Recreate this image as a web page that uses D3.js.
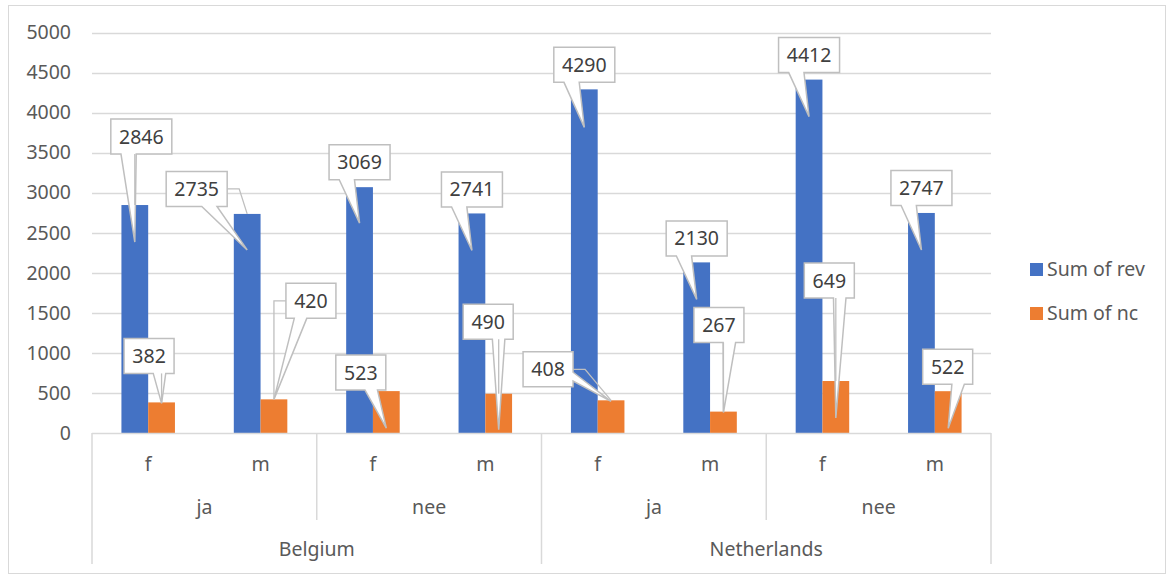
<!DOCTYPE html>
<html>
<head>
<meta charset="utf-8">
<script src="https://cdn.jsdelivr.net/npm/d3@7"></script>
<style>
  html, body { margin: 0; padding: 0; background: #fff; }
  svg { display: block; }
  text { font-family: "Noto Sans", "Open Sans", sans-serif; }
</style>
</head>
<body>
<svg id="chart" width="1172" height="576"></svg>
<script>
// ---- data ----
const countries = ["Belgium", "Netherlands"];
const groups = ["ja", "nee"];
const genders = ["f", "m"];
const seriesNames = ["Sum of rev", "Sum of nc"];
const revValues = [2846, 2735, 3069, 2741, 4290, 2130, 4412, 2747];
const ncValues = [382, 420, 523, 490, 408, 267, 649, 522];
const yTicks = [0, 500, 1000, 1500, 2000, 2500, 3000, 3500, 4000, 4500, 5000];

// ---- callout label placement (pixel offsets from bar top centre) ----
// [box dx, box dy, tip dy, draw leader]
const revCallouts = [
  [6.5, -68.5, 37, true], [-50.5, -25, 36, true], [0, -25, 36, false], [0, -24, 37, false],
  [0, -24.5, 38, false], [0, -24, 37, false], [0, -24.5, 37, false], [0, -25, 37, false]
];
const ncCallouts = [
  [-12.5, -46.5, 1, true], [37, -98.5, 0, true], [-25.5, -18.5, 37, false], [-10.5, -72, 36, true],
  [-63, -31, 1, true], [-4.5, -86.5, 1, true], [-6.5, -100.5, 37, true], [-0.5, -24.5, 37, false]
];

const colors = ["#4472C4", "#ED7D31"];
const gridColor = "#d9d9d9";
const textColor = "#595959";
const fontSize = "19.5px";

// build category table
const cats = [];
countries.forEach(c => groups.forEach(g => genders.forEach(s => cats.push({country: c, group: g, gender: s}))));
cats.forEach((d, i) => { d.values = [revValues[i], ncValues[i]]; d.callouts = [revCallouts[i], ncCallouts[i]]; d.i = i; });

const svg = d3.select("#chart");
const plot = {left: 92, right: 991, top: 32.5, bottom: 433};

// outer border
svg.append("rect").attr("x", 8.5).attr("y", 5.5).attr("width", 1157).attr("height", 568)
  .attr("fill", "#fff").attr("stroke", gridColor).attr("stroke-width", 1);

const y = d3.scaleLinear().domain([0, 5000]).range([plot.bottom, plot.top]);
const x0 = d3.scaleBand().domain(d3.range(cats.length)).range([plot.left, plot.right]).paddingInner(0).paddingOuter(0);
const x1 = d3.scaleBand().domain([0, 1]).range([0, x0.bandwidth()]).paddingInner(0).paddingOuter(1.1);

// gridlines
svg.append("g").selectAll("line").data(yTicks.filter(t => t > 0)).join("line")
  .attr("x1", plot.left).attr("x2", plot.right)
  .attr("y1", d => Math.round(y(d)) + 0.5).attr("y2", d => Math.round(y(d)) + 0.5)
  .attr("stroke", gridColor).attr("stroke-width", 1.3);

// y axis labels
const yAxis = d3.axisLeft(y).tickValues(yTicks).tickSize(0).tickPadding(0).tickFormat(d3.format("d"));
const yg = svg.append("g").attr("transform", `translate(71,0)`).call(yAxis);
yg.select(".domain").remove();
yg.selectAll("text").attr("fill", textColor).style("font-size", fontSize).style("font-family", "'Noto Sans', sans-serif");

// bars
const catG = svg.append("g").selectAll("g").data(cats).join("g")
  .attr("transform", d => `translate(${x0(d.i)},0)`);
catG.selectAll("rect").data(d => d.values.map((v, k) => ({v, k}))).join("rect")
  .attr("x", d => x1(d.k)).attr("width", x1.bandwidth())
  .attr("y", d => y(d.v)).attr("height", d => y(0) - y(d.v))
  .attr("fill", d => colors[d.k]);

// category axis
const axisG = svg.append("g").attr("stroke", gridColor).attr("stroke-width", 1.5);
axisG.append("line").attr("x1", plot.left).attr("x2", plot.right).attr("y1", plot.bottom + 0.5).attr("y2", plot.bottom + 0.5);
const nG = genders.length, nGroup = groups.length * genders.length;
d3.range(0, cats.length + 1).forEach(i => {
  const xx = i === cats.length ? plot.right : x0(i);
  if (i % nGroup === 0) {
    axisG.append("line").attr("x1", xx).attr("x2", xx).attr("y1", plot.bottom).attr("y2", 564);
  } else if (i % nG === 0) {
    axisG.append("line").attr("x1", xx).attr("x2", xx).attr("y1", plot.bottom).attr("y2", 520);
  }
});
const labG = svg.append("g").attr("fill", textColor).style("font-size", fontSize).attr("text-anchor", "middle");
cats.forEach(d => {
  labG.append("text").attr("x", x0(d.i) + x0.bandwidth() / 2).attr("y", 471).text(d.gender);
});
d3.range(cats.length / nG).forEach(j => {
  const xc = x0(j * nG) + x0.bandwidth() * nG / 2;
  labG.append("text").attr("x", xc).attr("y", 514).text(groups[j % groups.length]);
});
countries.forEach((c, j) => {
  const xc = x0(j * nGroup) + x0.bandwidth() * nGroup / 2;
  labG.append("text").attr("x", xc).attr("y", 556).text(c);
});

// callouts
function calloutPath(l, t, w, h, xPos, yPos) {
  const r = l + w, b = t + h, hc = l + w / 2, vc = t + h / 2;
  const dxPos = xPos - hc, dyPos = yPos - vc;
  const dq = dxPos * h / w;
  const dz = Math.abs(dyPos) - Math.abs(dq);
  const x1 = l + w * (dxPos > 0 ? 7 : 2) / 12, x2 = l + w * (dxPos > 0 ? 10 : 5) / 12;
  const y1 = t + h * (dyPos > 0 ? 7 : 2) / 12, y2 = t + h * (dyPos > 0 ? 10 : 5) / 12;
  const xl = dz > 0 ? l : (dxPos > 0 ? l : xPos);
  const yl = dz > 0 ? y1 : (dxPos > 0 ? y1 : yPos);
  const xr = dz > 0 ? r : (dxPos > 0 ? xPos : r);
  const yr = dz > 0 ? y1 : (dxPos > 0 ? yPos : y1);
  const xt = dz > 0 ? (dyPos > 0 ? x1 : xPos) : x1;
  const yt = dz > 0 ? (dyPos > 0 ? t : yPos) : t;
  const xb = dz > 0 ? (dyPos > 0 ? xPos : x1) : x1;
  const yb = dz > 0 ? (dyPos > 0 ? yPos : b) : b;
  const p = d3.path();
  p.moveTo(l, t); p.lineTo(x1, t); p.lineTo(xt, yt); p.lineTo(x2, t); p.lineTo(r, t);
  p.lineTo(r, y1); p.lineTo(xr, yr); p.lineTo(r, y2); p.lineTo(r, b);
  p.lineTo(x2, b); p.lineTo(xb, yb); p.lineTo(x1, b); p.lineTo(l, b);
  p.lineTo(l, y2); p.lineTo(xl, yl); p.lineTo(l, y1); p.closePath();
  return p.toString();
}

const calloutG = svg.append("g");
const leaderG = svg.append("g");
const labelTextG = svg.append("g");
cats.forEach(d => {
  d.values.forEach((v, k) => {
    const [dx, dy, tipDy, leader] = d.callouts[k];
    const bx = x0(d.i) + x1(k) + x1.bandwidth() / 2;
    const by = y(v);
    const label = String(v);
    const w = label.length >= 4 ? 61 : 50, h = 35;
    const cx = bx + dx, cy = by + dy;
    const l = cx - w / 2, t = cy - h / 2;
    calloutG.append("path").attr("d", calloutPath(l, t, w, h, bx, by + tipDy))
      .attr("fill", "#fff").attr("stroke", "#bfbfbf").attr("stroke-width", 1.5).attr("stroke-linejoin", "miter");
    labelTextG.append("text").attr("x", cx).attr("y", cy + 7).attr("text-anchor", "middle")
      .attr("fill", "#404040").style("font-size", fontSize).text(label);
    if (leader) {
      let pts;
      if (bx >= l && bx <= l + w) {
        pts = [[bx, t + h], [bx, by]];
      } else if (bx > l + w) {
        pts = [[l + w, cy], [l + w + 12, cy], [bx, by]];
      } else {
        pts = [[l, cy], [l - 12, cy], [bx, by]];
      }
      leaderG.append("path").attr("d", d3.line()(pts)).attr("fill", "none")
        .attr("stroke", "#bfbfbf").attr("stroke-width", 1.3);
    }
  });
});

// legend
const legend = svg.append("g");
seriesNames.forEach((s, k) => {
  const ly = 263 + k * 44;
  legend.append("rect").attr("x", 1030).attr("y", ly).attr("width", 13).attr("height", 13).attr("fill", colors[k]);
  legend.append("text").attr("x", 1047).attr("y", ly + 13).attr("fill", textColor).style("font-size", fontSize).text(s);
});
</script>
</body>
</html>
